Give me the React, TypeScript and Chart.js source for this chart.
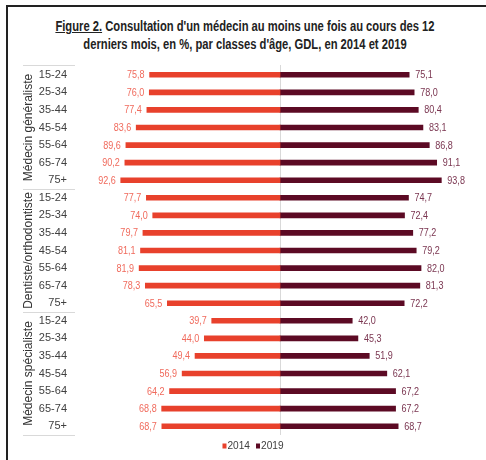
import React, { useEffect, useRef } from "react";
import { Chart, registerables } from "chart.js";

Chart.register(...registerables);

const groups = ["Médecin généraliste", "Dentiste/orthodontiste", "Médecin spécialiste"];
const ageClasses = ["15-24", "25-34", "35-44", "45-54", "55-64", "65-74", "75+"];
const seriesLabels = ["2014", "2019"];
const values2014 = [
  75.8, 76.0, 77.4, 83.6, 89.6, 90.2, 92.6,
  77.7, 74.0, 79.7, 81.1, 81.9, 78.3, 65.5,
  39.7, 44.0, 49.4, 56.9, 64.2, 68.8, 68.7,
];
const values2019 = [
  75.1, 78.0, 80.4, 83.1, 86.8, 91.1, 93.8,
  74.7, 72.4, 77.2, 79.2, 82.0, 81.3, 72.2,
  42.0, 45.3, 51.9, 62.1, 67.2, 67.2, 68.7,
];

const FONT = '"Liberation Sans Narrow", "Arial Narrow", "Liberation Sans", Arial, sans-serif';
const COLOR_2014 = "#E8412C";
const COLOR_2019 = "#5C0A24";
const LABEL_2014 = "#F06A5C";
const LABEL_2019 = "#7A3550";
const SQUEEZE = 0.82;

const fmt = (v: number) => v.toFixed(1).replace(".", ",");

function squeezedText(ctx: CanvasRenderingContext2D, text: string, x: number, y: number, align: "left" | "right" | "center") {
  ctx.save();
  ctx.translate(x, y);
  ctx.scale(SQUEEZE, 1);
  ctx.textAlign = align;
  ctx.fillText(text, 0, 0);
  ctx.restore();
}

const overlayPlugin = {
  id: "overlay",
  beforeDatasetsDraw(chart: any) {
    const ctx = chart.ctx;
    const area = chart.chartArea;
    const cx = Math.round(chart.scales.x.getPixelForValue(0)) + 0.5;
    ctx.save();
    ctx.strokeStyle = "#d9d9d9";
    ctx.lineWidth = 1;
    ctx.beginPath();
    ctx.moveTo(cx, area.top - 1);
    ctx.lineTo(cx, area.bottom);
    ctx.stroke();
    ctx.restore();
  },
  afterDatasetsDraw(chart: any) {
    const ctx = chart.ctx;
    const area = chart.chartArea;
    const yScale = chart.scales.y;
    ctx.save();
    // value labels
    ctx.font = `11px ${FONT}`;
    ctx.textBaseline = "middle";
    chart.data.datasets.forEach((ds: any, di: number) => {
      const meta = chart.getDatasetMeta(di);
      meta.data.forEach((el: any, i: number) => {
        const v = Math.abs(ds.data[i]);
        if (di === 0) {
          ctx.fillStyle = LABEL_2014;
          squeezedText(ctx, fmt(v), el.x - 5, el.y + 0.5, "right");
        } else {
          ctx.fillStyle = LABEL_2019;
          squeezedText(ctx, fmt(v), el.x + 6, el.y + 0.5, "left");
        }
      });
    });
    // group separators
    const n = ageClasses.length;
    const total = groups.length * n;
    ctx.strokeStyle = "#d9d9d9";
    ctx.lineWidth = 1;
    for (let g = 0; g <= groups.length; g++) {
      const idx = g * n;
      let yy: number;
      if (idx === 0) yy = area.top - 1;
      else if (idx === total) yy = area.bottom;
      else yy = (yScale.getPixelForValue(idx - 1) + yScale.getPixelForValue(idx)) / 2;
      yy = Math.round(yy) + 0.5;
      ctx.beginPath();
      ctx.moveTo(23, yy);
      ctx.lineTo(75, yy);
      ctx.stroke();
    }
    // group labels
    ctx.fillStyle = "#333333";
    ctx.font = `12px ${FONT}`;
    ctx.textAlign = "center";
    ctx.textBaseline = "middle";
    groups.forEach((name, g) => {
      const y0 = yScale.getPixelForValue(g * n);
      const y1 = yScale.getPixelForValue(g * n + n - 1);
      ctx.save();
      ctx.translate(29, (y0 + y1) / 2);
      ctx.rotate(-Math.PI / 2);
      ctx.fillText(name, 0, 0);
      ctx.restore();
    });
    // legend
    ctx.font = `11px ${FONT}`;
    ctx.textBaseline = "middle";
    const ly = 446;
    const items = [
      { label: seriesLabels[0], color: COLOR_2014 },
      { label: seriesLabels[1], color: COLOR_2019 },
    ];
    const widths = items.map((it) => 5 + ctx.measureText(it.label).width * 0.92);
    const gap = 6;
    const totalW = widths.reduce((a, b) => a + b, 0) + gap;
    let lx = 253 - totalW / 2;
    items.forEach((it, k) => {
      ctx.fillStyle = it.color;
      ctx.fillRect(lx, ly - 2.5, 4, 5);
      ctx.fillStyle = "#404040";
      ctx.save();
      ctx.translate(lx + 5, ly);
      ctx.scale(0.92, 1);
      ctx.textAlign = "left";
      ctx.fillText(it.label, 0, 0);
      ctx.restore();
      lx += widths[k] + gap;
    });
    ctx.restore();
  },
};

export default function App() {
  const canvasRef = useRef<HTMLCanvasElement | null>(null);

  useEffect(() => {
    if (!canvasRef.current) return;
    const labels: string[] = [];
    groups.forEach(() => ageClasses.forEach((a) => labels.push(a)));
    const chart = new Chart(canvasRef.current, {
      type: "bar",
      data: {
        labels,
        datasets: [
          {
            label: seriesLabels[0],
            data: values2014.map((v) => -v),
            backgroundColor: COLOR_2014,
            barThickness: 5,
          },
          {
            label: seriesLabels[1],
            data: values2019,
            backgroundColor: COLOR_2019,
            barThickness: 5,
          },
        ],
      },
      options: {
        indexAxis: "y",
        animation: false,
        responsive: false,
        devicePixelRatio: 1,
        layout: { padding: { left: 0, right: 34, top: 66, bottom: 25 } },
        plugins: { legend: { display: false }, tooltip: { enabled: false } },
        scales: {
          x: { display: false, stacked: true, min: -100, max: 100 },
          y: {
            stacked: true,
            grid: { display: false, drawTicks: false },
            border: { display: false },
            ticks: {
              padding: 41,
              color: "#404040",
              font: { family: FONT, size: 11 },
              autoSkip: false,
            },
            afterFit: (scale: any) => {
              scale.width = 108;
              scale.paddingTop = 0;
              scale.paddingBottom = 0;
            },
          },
        },
      },
      plugins: [overlayPlugin],
    } as any);
    return () => chart.destroy();
  }, []);

  return (
    <div style={{ position: "absolute", left: 0, top: 0, width: 486, height: 460, background: "#fff", overflow: "hidden" }}>
      <div
        style={{
          position: "absolute",
          left: 6,
          top: 5,
          width: 490,
          height: 470,
          borderTop: "2px solid #222",
          borderLeft: "2px solid #222",
        }}
      />
      <div
        style={{
          position: "absolute",
          left: 0,
          width: 490,
          top: 17,
          textAlign: "center",
          fontFamily: FONT,
          fontWeight: "bold",
          fontSize: 14,
          lineHeight: "18px",
          color: "#222",
          transform: "scaleX(0.8)",
          transformOrigin: "245px 0",
        }}
      >
        <span style={{ textDecoration: "underline" }}>Figure 2.</span> Consultation d'un médecin au moins une fois au cours des 12
        <br />
        derniers mois, en %, par classes d'âge, GDL, en 2014 et 2019
      </div>
      <canvas ref={canvasRef} width={486} height={460} style={{ position: "absolute", left: 0, top: 0, width: 486, height: 460 }} />
    </div>
  );
}
